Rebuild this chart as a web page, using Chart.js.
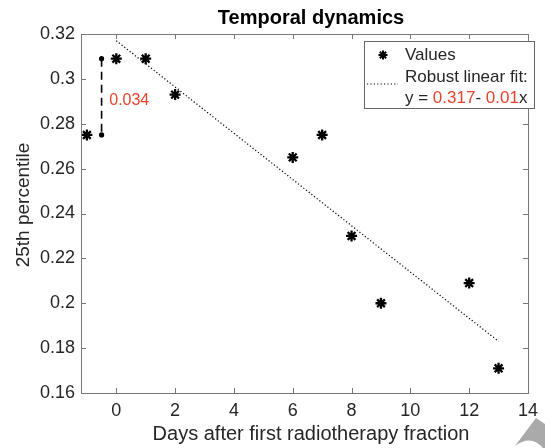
<!DOCTYPE html>
<html>
<head>
<meta charset="utf-8">
<script src="https://cdn.jsdelivr.net/npm/chart.js@4/dist/chart.umd.min.js"></script>
<style>
  html,body{margin:0;padding:0;background:#fff}
  #wrap{width:545px;height:448px}
</style>
</head>
<body>
<div id="wrap"><canvas id="chart" width="545" height="448"></canvas></div>
<script>
// data
const dayValues   = [-1, 0, 1, 2, 6, 7, 8, 9, 12, 13];
const pct25Values = [0.275, 0.309, 0.309, 0.293, 0.265, 0.275, 0.230, 0.200, 0.209, 0.171];

// robust fit line end points
const fitDays   = [0, 13];
const fitValues = [0.317, 0.183];

// dashed gap marker between first two values
const gapDays   = [-0.5, -0.5];
const gapValues = [0.309, 0.275];
const gapLabel  = '0.034';
const gapLabelAt = {day: -0.24, value: 0.2905};

const xTicks = [0, 2, 4, 6, 8, 10, 12, 14];
const yTicks = [0.16, 0.18, 0.2, 0.22, 0.24, 0.26, 0.28, 0.3, 0.32];

const titleText  = 'Temporal dynamics';
const xTitleText = 'Days after first radiotherapy fraction';
const yTitleText = '25th percentile';
const legendLabels = ['Values', 'Robust linear fit:'];
const fitIntercept = '0.317';
const fitSlope = '0.01';

const FONT = '"Liberation Sans", Arial, Helvetica, sans-serif';
const RED = '#e8432d';
const AXIS = '#777';
const TXT = '#262626';

function pts(xs, ys){ return xs.map((x,i)=>({x, y: ys[i]})); }

function drawStar(ctx, x, y, r){
  const d = r*Math.SQRT1_2;
  ctx.beginPath();
  ctx.moveTo(x-r,y); ctx.lineTo(x+r,y);
  ctx.moveTo(x,y-r); ctx.lineTo(x,y+r);
  ctx.moveTo(x-d,y-d); ctx.lineTo(x+d,y+d);
  ctx.moveTo(x-d,y+d); ctx.lineTo(x+d,y-d);
  ctx.stroke();
}

// frame, inward ticks, titles, annotation and legend box
const decor = {
  id: 'decor',
  afterDatasetsDraw(chart){
    const {ctx, chartArea: a, scales} = chart;
    const sx = scales.x, sy = scales.y;
    ctx.save();
    ctx.strokeStyle = AXIS;
    ctx.lineWidth = 1;
    ctx.strokeRect(Math.round(a.left)+0.5, Math.round(a.top)+0.5, Math.round(a.right-a.left), Math.round(a.bottom-a.top));
    ctx.beginPath();
    xTicks.forEach(v=>{
      const px = Math.round(sx.getPixelForValue(v))+0.5;
      ctx.moveTo(px, a.bottom); ctx.lineTo(px, a.bottom-5);
      ctx.moveTo(px, a.top); ctx.lineTo(px, a.top+5);
    });
    yTicks.forEach(v=>{
      const py = Math.round(sy.getPixelForValue(v))+0.5;
      ctx.moveTo(a.left, py); ctx.lineTo(a.left+5, py);
      ctx.moveTo(a.right, py); ctx.lineTo(a.right-5, py);
    });
    ctx.stroke();

    // title
    ctx.fillStyle = '#000';
    ctx.font = 'bold 20px ' + FONT;
    ctx.textAlign = 'center';
    ctx.textBaseline = 'middle';
    ctx.fillText(titleText, 311, 18);

    // axis titles
    ctx.fillStyle = TXT;
    ctx.font = '20px ' + FONT;
    ctx.fillText(xTitleText, 311, 434);
    ctx.save();
    ctx.translate(24, 205);
    ctx.rotate(-Math.PI/2);
    ctx.font = '19px ' + FONT;
    ctx.fillText(yTitleText, 0, 0);
    ctx.restore();

    // gap label
    ctx.fillStyle = RED;
    ctx.font = '16px ' + FONT;
    ctx.textAlign = 'left';
    ctx.fillText(gapLabel, sx.getPixelForValue(gapLabelAt.day), sy.getPixelForValue(gapLabelAt.value));

    // legend
    ctx.fillStyle = '#fff';
    ctx.fillRect(364.5, 41.5, 170, 67);
    ctx.strokeStyle = '#666';
    ctx.strokeRect(364.5, 41.5, 170, 67);
    ctx.strokeStyle = '#000';
    ctx.lineWidth = 2;
    drawStar(ctx, 383, 55, 4.5);
    ctx.lineWidth = 1.2;
    ctx.setLineDash([1.2,2.2]);
    ctx.beginPath();
    ctx.moveTo(367,84); ctx.lineTo(398,84);
    ctx.stroke();
    ctx.setLineDash([]);

    ctx.font = '17px ' + FONT;
    ctx.fillStyle = TXT;
    ctx.fillText(legendLabels[0], 405, 55);
    ctx.fillText(legendLabels[1], 405, 77);
    let x = 405;
    const parts = [['y = ', TXT], [fitIntercept, RED], ['- ', TXT], [fitSlope, RED], ['x', TXT]];
    parts.forEach(([t,c])=>{
      ctx.fillStyle = c;
      ctx.fillText(t, x, 98);
      x += ctx.measureText(t).width;
    });

    // grey pointer in the corner of the screenshot
    ctx.fillStyle = '#aaa';
    ctx.beginPath();
    ctx.moveTo(536, 418);
    ctx.lineTo(515, 446);
    ctx.quadraticCurveTo(531, 434, 543, 448);
    ctx.lineTo(545, 448);
    ctx.lineTo(545, 424);
    ctx.closePath();
    ctx.fill();
    ctx.restore();
  }
};

new Chart(document.getElementById('chart'), {
  type: 'scatter',
  data: {
    datasets: [
      {
        label: 'Values',
        data: pts(dayValues, pct25Values),
        pointStyle: 'star',
        pointRadius: 5.5,
        borderWidth: 2.3,
        borderColor: '#000',
        backgroundColor: '#000',
        showLine: false
      },
      {
        label: 'Robust linear fit',
        data: pts(fitDays, fitValues),
        showLine: true,
        borderColor: '#000',
        borderWidth: 1.2,
        borderDash: [1.2, 2.2],
        pointRadius: 0
      },
      {
        label: 'gap',
        data: pts(gapDays, gapValues),
        showLine: true,
        borderColor: '#000',
        borderWidth: 1.6,
        borderDash: [8, 5],
        pointRadius: 1.8,
        pointBackgroundColor: '#000',
        pointBorderColor: '#000'
      }
    ]
  },
  options: {
    responsive: false,
    animation: false,
    devicePixelRatio: 1,
    layout: {padding: {top: 34, right: 9, left: 0, bottom: 0}},
    plugins: {legend: {display: false}, tooltip: {enabled: false}, title: {display: false}},
    scales: {
      x: {
        type: 'linear', min: -1.2, max: 14,
        grid: {display: false, drawTicks: false},
        border: {display: false},
        afterBuildTicks: s => { s.ticks = xTicks.map(v=>({value: v})); },
        afterFit: s => { s.height = 55; },
        ticks: {color: TXT, font: {family: FONT, size: 18}, padding: 7, maxRotation: 0, callback: v => String(v)}
      },
      y: {
        type: 'linear', min: 0.16, max: 0.32,
        grid: {display: false, drawTicks: false},
        border: {display: false},
        afterBuildTicks: s => { s.ticks = yTicks.map(v=>({value: v})); },
        afterFit: s => { s.width = 81; },
        ticks: {color: TXT, font: {family: FONT, size: 18}, padding: 6, callback: v => String(+(+v).toFixed(2))}
      }
    }
  },
  plugins: [decor]
});
</script>
</body>
</html>
